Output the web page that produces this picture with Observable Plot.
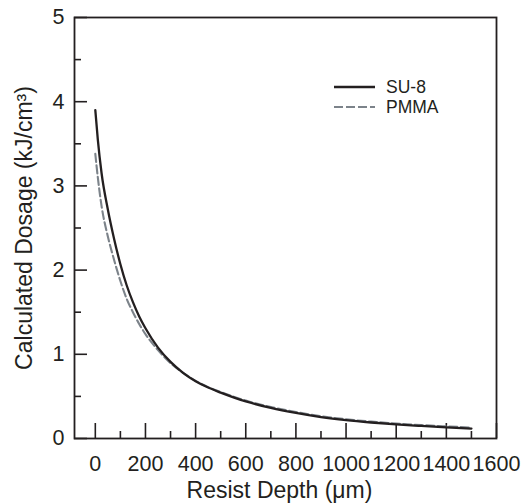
<!DOCTYPE html>
<html>
<head>
<meta charset="utf-8">
<script src="https://cdn.jsdelivr.net/npm/d3@7"></script>
<script src="https://cdn.jsdelivr.net/npm/@observablehq/plot@0.6"></script>
<style>
  html, body { margin: 0; padding: 0; background: #ffffff; }
  #chart { width: 521px; height: 504px; }
</style>
</head>
<body>
<div id="chart"></div>
<script>
// ---- data ----
const depth = [0, 10, 25, 50, 75, 100, 125, 150, 175, 200, 250, 300, 350, 400, 450, 500, 600, 700, 800, 900, 1000, 1100, 1200, 1300, 1400, 1500];
const su8   = [3.90, 3.55, 3.15, 2.72, 2.37, 2.07, 1.82, 1.62, 1.45, 1.31, 1.08, 0.91, 0.78, 0.68, 0.605, 0.545, 0.44, 0.365, 0.305, 0.255, 0.218, 0.19, 0.167, 0.149, 0.133, 0.118];
const pmma  = [3.38, 3.10, 2.76, 2.40, 2.12, 1.87, 1.66, 1.50, 1.36, 1.24, 1.05, 0.895, 0.78, 0.685, 0.61, 0.552, 0.45, 0.374, 0.315, 0.265, 0.228, 0.20, 0.177, 0.159, 0.144, 0.13];

const xTicks = [0, 200, 400, 600, 800, 1000, 1200, 1400, 1600];
const xMinor = [100, 300, 500, 700, 900, 1100, 1300, 1500];
const yTicks = [0, 1, 2, 3, 4, 5];
const yMinor = [0.5, 1.5, 2.5, 3.5, 4.5];

const xTitle = "Resist Depth (\u03bcm)";
const yTitle = "Calculated Dosage (kJ/cm\u00b3)";
const seriesNames = ["SU-8", "PMMA"];

// ---- table built from arrays ----
const rows = depth.map((d, i) => ({depth: d, su8: su8[i], pmma: pmma[i]}));

const W = 521, H = 504;
const mL = 74, mR = 25, mT = 17, mB = 66;
const plotW = W - mL - mR, plotH = H - mT - mB;
const ink = "#231f20";
const gray = "#7c838a";
const font = "'Liberation Sans', Arial, Helvetica, sans-serif";

const chart = Plot.plot({
  width: W,
  height: H,
  marginLeft: mL,
  marginRight: mR,
  marginTop: mT,
  marginBottom: mB,
  style: {fontFamily: font, color: ink, background: "#ffffff", overflow: "visible"},
  x: {domain: [-83, 1600]},
  y: {domain: [0, 5]},
  marks: [
    // inward ticks
    Plot.tickX(xTicks, {x: d => d, insetTop: plotH - 15, stroke: ink, strokeWidth: 1.6}),
    Plot.tickX(xMinor, {x: d => d, insetTop: plotH - 7, stroke: ink, strokeWidth: 1.6}),
    Plot.tickY(yTicks, {y: d => d, insetRight: plotW - 13, stroke: ink, strokeWidth: 1.6}),
    Plot.tickY(yMinor, {y: d => d, insetRight: plotW - 7, stroke: ink, strokeWidth: 1.6}),
    // tick labels
    Plot.axisX(xTicks, {tickSize: 0, tickPadding: 17, fontSize: 21.5, label: null, tickFormat: d => String(d)}),
    Plot.axisY(yTicks, {tickSize: 0, tickPadding: 10, fontSize: 21.5, label: null, tickFormat: d => String(d)}),
    // titles
    Plot.text([xTitle], {text: d => d, frameAnchor: "bottom", textAnchor: "middle", dx: -6, dy: 59, lineAnchor: "bottom", fontSize: 23, fill: ink}),
    Plot.text([yTitle], {text: d => d, frameAnchor: "left", textAnchor: "middle", dx: -59, rotate: -90, lineAnchor: "top", fontSize: 23, fill: ink}),
    // data
    Plot.line(rows, {x: "depth", y: "pmma", stroke: gray, strokeWidth: 2.1, strokeDasharray: "8,3.5", curve: "monotone-x"}),
    Plot.line(rows, {x: "depth", y: "su8", stroke: ink, strokeWidth: 2.3, curve: "monotone-x"}),
    Plot.frame({stroke: ink, strokeWidth: 1.8})
  ]
});

document.getElementById("chart").appendChild(chart);

// legend inside the plot area (top right)
const svg = d3.select(chart);
const leg = svg.append("g")
  .attr("font-family", font)
  .attr("font-size", 17.5)
  .attr("text-anchor", "start")
  .attr("fill", ink);
const legStyles = [
  {stroke: ink, dash: null, width: 2.6},
  {stroke: gray, dash: "9,3", width: 2.1}
];
seriesNames.forEach((name, i) => {
  const y = 87 + i * 20;
  leg.append("line")
    .attr("x1", 334).attr("x2", 375).attr("y1", y).attr("y2", y)
    .attr("stroke", legStyles[i].stroke)
    .attr("stroke-width", legStyles[i].width)
    .attr("stroke-dasharray", legStyles[i].dash);
  leg.append("text")
    .attr("x", 386).attr("y", y).attr("dy", "0.35em")
    .attr("text-anchor", "start")
    .text(name);
});
</script>
</body>
</html>
